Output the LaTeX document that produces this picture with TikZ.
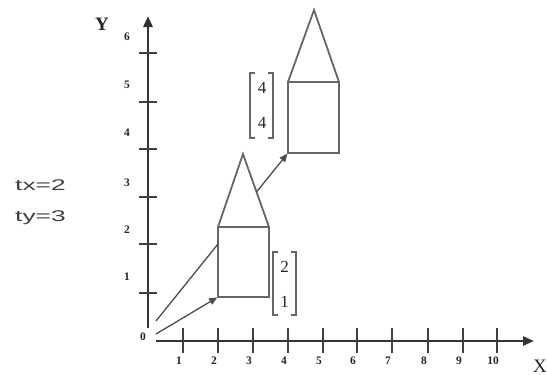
\documentclass[tikz,border=0pt]{standalone}
\usepackage{fontspec}
\setmainfont{Liberation Serif}
\newfontfamily\sansf{Liberation Sans}
\usetikzlibrary{arrows.meta,calc}
\begin{document}
\begin{tikzpicture}[x=1pt,y=-1pt,
  axis/.style={line width=2.6pt,draw=black!80},
  axtip/.style={-{Triangle[length=11pt,width=9pt]}},
  tickline/.style={line width=1.5pt,draw=black!75},
  house/.style={line width=1.8pt,draw=black!60,line join=miter},
  conn/.style={line width=1.3pt,draw=black!70},
  arr/.style={conn,-{Triangle[length=8pt,width=7pt]}},
  ticklab/.style={font=\fontsize{11.5}{11.5}\selectfont\bfseries,inner sep=0pt,text=black!85},
  brk/.style={line width=1.3pt,draw=black!60},
  num/.style={font=\fontsize{17}{17}\selectfont,inner sep=0pt,text=black!85},
  side/.style={font=\sansf\fontsize{15.5}{15.5}\selectfont,inner sep=0pt,text=black!75,anchor=base west},
  ]
\path[use as bounding box,fill=white] (0,0) rectangle (547,375);

% axes
\coordinate (yb) at (148,328);
\coordinate (yt) at (148,16);
\coordinate (xb) at (156,341);
\coordinate (xt) at (534,341);
\draw[axis,axtip] (yb) -- (yt);
\draw[axis,axtip] (xb) -- (xt);

% y ticks and labels
\foreach \y in {53,102,149,197,244,293} \draw[tickline] (139,\y) -- (157,\y);
\foreach \y/\l in {37/6,85/5,133/4,183/3,230/2,277/1} \node[ticklab] (yl\l) at (127,\y) {\l};

% x ticks and labels
\foreach \x [count=\i] in {183,218,253,288,323,357,392,428,463,497} {
  \draw[tickline] (\x,328) -- (\x,353);
  \node[ticklab] (xl\i) at (\x-4,361) {\i};
}

\node[ticklab] (zero) at (143,337) {0};
\node[font=\fontsize{19}{19}\selectfont\bfseries,inner sep=0pt,text=black!85] (Ylab) at (102,24) {Y};
\node[font=\fontsize{19}{19}\selectfont,inner sep=0pt,text=black!85] (Xlab) at (540,366) {X};

% lower house
\coordinate (a1) at (218,297);
\coordinate (a2) at (269,297);
\coordinate (a3) at (269,227);
\coordinate (a4) at (218,227);
\coordinate (p1) at (243,154);
\draw[house] (a1) -- (a2) -- (a3) -- (a4) -- cycle;
\draw[house] (a4) -- (p1) -- (a3);

% upper house
\coordinate (b1) at (288,153);
\coordinate (b2) at (339,153);
\coordinate (b3) at (339,82);
\coordinate (b4) at (288,82);
\coordinate (p2) at (314,10);
\draw[house] (b1) -- (b2) -- (b3) -- (b4) -- cycle;
\draw[house] (b4) -- (p2) -- (b3);

% connectors
\coordinate (o1) at (156,334);
\coordinate (o2) at (156,321);
\coordinate (m1) at (218,244);
\coordinate (t1) at ($(p1)!0.52!(a3)$);
\draw[conn] (o2) -- (m1);
\draw[arr,shorten >=1pt] (o1) -- (a1);
\draw[arr,shorten >=1pt] (t1) -- (b1);

% brackets
\draw[brk] (255,73) -- (250,73) -- (250,138) -- (255,138);
\draw[brk] (268,73) -- (273,73) -- (273,138) -- (268,138);
\node[num] (u1) at (262,88) {4};
\node[num] (u2) at (262,123) {4};

\draw[brk] (278,252) -- (273,252) -- (273,315) -- (278,315);
\draw[brk] (291,252) -- (296,252) -- (296,315) -- (291,315);
\node[num] (v1) at (284.5,267) {2};
\node[num] (v2) at (284.5,302) {1};

% side texts
\node[side] (tx) at (15,190) {\scalebox{1.7}[1]{tx=2}};
\node[side] (ty) at (15,221) {\scalebox{1.7}[1]{ty=3}};
\end{tikzpicture}
\end{document}
